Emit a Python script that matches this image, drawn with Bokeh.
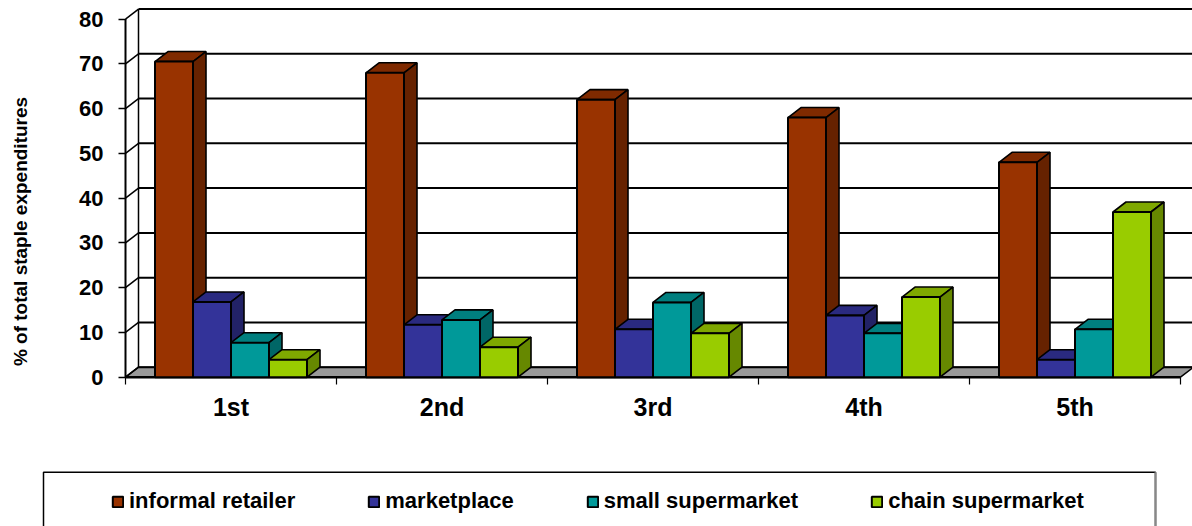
import math
from bokeh.plotting import figure
from bokeh.models import FixedTicker, Range1d, Label, Legend, LegendItem
from bokeh.embed import file_html
from bokeh.resources import INLINE

# ---------------- data ----------------
categories = ["1st", "2nd", "3rd", "4th", "5th"]
series_names = ["informal retailer", "marketplace", "small supermarket", "chain supermarket"]
informal_retailer = [70.5, 68.0, 62.0, 58.0, 48.0]
marketplace = [16.8, 11.7, 10.7, 13.8, 3.9]
small_supermarket = [7.7, 12.8, 16.7, 9.8, 10.7]
chain_supermarket = [3.9, 6.7, 9.8, 17.9, 36.9]
y_ticks = [0, 10, 20, 30, 40, 50, 60, 70, 80]
y_title = "% of total staple expenditures"

series_values = [informal_retailer, marketplace, small_supermarket, chain_supermarket]
front_colors = ["#993300", "#333399", "#009999", "#99CC00"]
side_colors = ["#662200", "#222266", "#006666", "#668800"]
top_colors = ["#7F2A00", "#2A2A80", "#007F7F", "#7FA800"]

FONT = "Liberation Sans"

# ---------------- geometry ----------------
PX_X = 211.0          # px per category
PX_Y = 4.477          # px per unit
X0_PX, Y0_PX = 125.0, 376.7   # page position of the chart origin
DX = 13.0 / PX_X      # depth offset in x
DY = 10.0 / PX_Y      # depth offset in y
BAR_W = 38.0 / PX_X
n_cat = len(categories)
n_ser = len(series_values)

W, H = 1192, 526


def dx_of(px):
    return (px - X0_PX) / PX_X


def dy_of(py):
    return (Y0_PX - py) / PX_Y


p = figure(width=W, height=H, output_backend="svg", toolbar_location=None,
           x_range=Range1d(dx_of(0), dx_of(W)), y_range=Range1d(dy_of(H), dy_of(0)),
           min_border=0, min_border_left=0, min_border_right=0,
           min_border_top=0, min_border_bottom=0)
p.outline_line_color = None
p.xgrid.visible = False
p.ygrid.visible = False
p.background_fill_color = "white"
p.border_fill_color = "white"

# floor
floor_end = float(n_cat)
p.patch([0, floor_end, floor_end + DX, DX], [0, 0, DY, DY],
        fill_color="#999999", line_color="black", line_width=1.5)

# back wall gridlines and left wall
for v in y_ticks:
    p.line([DX, floor_end + DX], [v + DY, v + DY], line_color="black", line_width=2)
    p.line([0, DX], [v, v + DY], line_color="black", line_width=1.5)
p.line([DX, DX], [DY, y_ticks[-1] + DY], line_color="black", line_width=1.5)
p.line([0, 0], [0, y_ticks[-1]], line_color="black", line_width=2)
p.line([0, floor_end], [0, 0], line_color="black", line_width=2.4)

# bars, one renderer per series and face
group_offset = 0.5 - n_ser * BAR_W / 2.0
front_renderers = []
for j in range(n_ser):
    vals = series_values[j]
    lefts = [i + group_offset + j * BAR_W for i in range(n_cat)]
    rights = [l + BAR_W for l in lefts]
    top_xs = [[l, r, r + DX, l + DX] for l, r in zip(lefts, rights)]
    top_ys = [[v, v, v + DY, v + DY] for v in vals]
    side_xs = [[r, r + DX, r + DX, r] for r in rights]
    side_ys = [[0, DY, v + DY, v] for v in vals]
    p.patches(top_xs, top_ys, fill_color=top_colors[j], line_color="black", line_width=1.6)
    p.patches(side_xs, side_ys, fill_color=side_colors[j], line_color="black", line_width=1.6)
    fr = p.quad(left=lefts, right=rights, bottom=[0] * n_cat, top=vals,
                fill_color=front_colors[j], line_color="black", line_width=2)
    front_renderers.append(fr)

# axes (fixed at the chart origin, inside the full-page frame)
p.yaxis.fixed_location = 0
p.yaxis.ticker = FixedTicker(ticks=y_ticks)
p.yaxis.axis_line_color = None
p.yaxis.major_tick_out = 7
p.yaxis.major_tick_in = 0
p.yaxis.minor_tick_line_color = None
p.yaxis.major_tick_line_color = "black"
p.yaxis.major_tick_line_width = 1.5
p.yaxis.major_label_text_font = FONT
p.yaxis.major_label_text_font_style = "bold"
p.yaxis.major_label_text_font_size = "22px"
p.yaxis.major_label_text_color = "black"
p.yaxis.major_label_standoff = 15

p.xaxis.fixed_location = 0
p.xaxis.ticker = FixedTicker(ticks=[i + 0.5 for i in range(n_cat)],
                             minor_ticks=[float(i) for i in range(n_cat + 1)])
p.xaxis.major_label_overrides = {i + 0.5: c for i, c in enumerate(categories)}
p.xaxis.axis_line_color = None
p.xaxis.major_tick_line_color = None
p.xaxis.major_tick_out = 0
p.xaxis.major_tick_in = 0
p.xaxis.minor_tick_out = 7
p.xaxis.minor_tick_in = 0
p.xaxis.minor_tick_line_color = "black"
p.xaxis.minor_tick_line_width = 1.2
p.xaxis.major_label_text_font = FONT
p.xaxis.major_label_text_font_style = "bold"
p.xaxis.major_label_text_font_size = "25px"
p.xaxis.major_label_text_color = "black"
p.xaxis.major_label_standoff = 9

# y axis title
p.add_layout(Label(x=dx_of(20), y=dy_of(231), text=y_title, angle=math.pi / 2,
                   text_align="center", text_baseline="middle",
                   text_font=FONT, text_font_style="bold", text_font_size="19px",
                   text_color="black"))

# legend frame
p.quad(left=[dx_of(43)], right=[dx_of(1155)], top=[dy_of(471.7)], bottom=[dy_of(560)],
       fill_color="white", line_color="black", line_width=1.5)
p.line([dx_of(1155)] * 2, [dy_of(471.7), dy_of(560)], line_color="#888888", line_width=2)

legend = Legend(items=[LegendItem(label=series_names[j], renderers=[front_renderers[j]])
                       for j in range(n_ser)],
                orientation="horizontal", location=(111, H - 514),
                label_text_font=FONT, label_text_font_style="bold",
                label_text_font_size="22px", label_text_color="black",
                glyph_width=13, glyph_height=13, label_standoff=5, spacing=72,
                padding=0, margin=0, border_line_color=None, background_fill_alpha=0.0)
p.add_layout(legend)

open("out.html", "w").write(file_html(p, INLINE))
